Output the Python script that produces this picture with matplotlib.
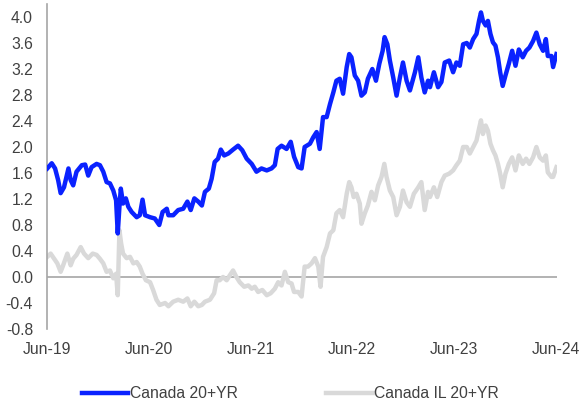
import pandas as pd
import matplotlib.pyplot as plt

# Canada 20+YR nominal yield (%)
nom_dates = [
    "2019-06-02", "2019-06-18", "2019-06-30", "2019-07-11", "2019-07-20", "2019-08-01",
    "2019-08-17", "2019-08-25", "2019-09-03", "2019-09-15", "2019-10-04", "2019-10-16",
    "2019-10-27", "2019-11-08", "2019-11-26", "2019-12-08", "2019-12-20", "2020-01-01",
    "2020-01-13", "2020-01-25", "2020-02-04", "2020-02-10", "2020-02-16", "2020-02-21",
    "2020-02-29", "2020-03-10", "2020-03-19", "2020-03-31", "2020-04-18", "2020-04-29",
    "2020-05-09", "2020-05-18", "2020-06-05", "2020-06-22", "2020-07-08", "2020-07-20",
    "2020-08-04", "2020-08-10", "2020-08-27", "2020-09-14", "2020-10-02", "2020-10-17",
    "2020-10-29", "2020-11-11", "2020-11-25", "2020-12-08", "2020-12-19", "2021-01-02",
    "2021-01-12", "2021-01-23", "2021-02-04", "2021-02-14", "2021-02-26", "2021-03-13",
    "2021-03-30", "2021-04-17", "2021-05-02", "2021-05-18", "2021-06-05", "2021-06-22",
    "2021-07-10", "2021-07-29", "2021-08-15", "2021-08-27", "2021-09-06", "2021-09-20",
    "2021-10-08", "2021-10-23", "2021-11-04", "2021-11-19", "2021-12-01", "2021-12-12",
    "2021-12-31", "2022-01-12", "2022-01-24", "2022-02-04", "2022-02-16", "2022-03-01",
    "2022-03-13", "2022-03-25", "2022-04-05", "2022-04-17", "2022-04-29", "2022-05-12",
    "2022-05-21", "2022-05-29", "2022-06-10", "2022-06-22", "2022-07-04", "2022-07-16",
    "2022-07-27", "2022-08-12", "2022-08-25", "2022-09-06", "2022-09-18", "2022-09-25",
    "2022-10-05", "2022-10-14", "2022-10-26", "2022-11-07", "2022-11-19", "2022-11-30",
    "2022-12-13", "2022-12-25", "2023-01-12", "2023-01-24", "2023-02-04", "2023-02-16",
    "2023-02-28", "2023-03-07", "2023-03-21", "2023-04-05", "2023-04-17", "2023-04-29",
    "2023-05-15", "2023-05-29", "2023-06-10", "2023-06-22", "2023-07-04", "2023-07-17",
    "2023-07-28", "2023-08-09", "2023-08-21", "2023-08-30", "2023-09-06", "2023-09-13",
    "2023-09-23", "2023-10-01", "2023-10-10", "2023-10-19", "2023-10-28", "2023-11-06",
    "2023-11-14", "2023-11-23", "2023-12-03", "2023-12-15", "2023-12-27", "2024-01-08",
    "2024-01-20", "2024-02-03", "2024-02-15", "2024-02-27", "2024-03-11", "2024-03-23",
    "2024-04-04", "2024-04-16", "2024-04-26", "2024-05-03", "2024-05-16", "2024-05-22",
    "2024-06-03",
]
nom_vals = [
    1.67, 1.75, 1.67, 1.49, 1.29, 1.38,
    1.67, 1.49, 1.41, 1.62, 1.72, 1.73,
    1.56, 1.69, 1.74, 1.72, 1.62, 1.46,
    1.44, 1.33, 1.18, 0.67, 1.08, 1.36,
    1.13, 1.21, 1.08, 1.00, 0.92, 0.95,
    1.19, 0.95, 0.92, 0.90, 0.80, 1.00,
    1.05, 0.95, 0.95, 1.03, 1.05, 1.16,
    1.03, 1.21, 1.16, 1.10, 1.31, 1.36,
    1.51, 1.77, 1.82, 1.96, 1.87, 1.90,
    1.96, 2.02, 1.95, 1.82, 1.74, 1.62,
    1.67, 1.64, 1.67, 1.72, 1.97, 2.02,
    1.97, 2.08, 1.85, 1.69, 1.67, 2.00,
    2.05, 2.15, 2.23, 1.97, 2.46, 2.46,
    2.66, 2.84, 3.02, 3.05, 2.82, 3.23,
    3.43, 3.38, 3.10, 3.02, 2.79, 2.84,
    3.05, 3.20, 3.02, 3.28, 3.48, 3.69,
    3.58, 3.33, 3.07, 2.79, 3.07, 3.30,
    3.02, 2.87, 3.15, 3.38, 3.07, 2.84,
    3.02, 2.92, 3.15, 2.92, 3.00, 3.30,
    3.33, 3.15, 3.30, 3.25, 3.58, 3.60,
    3.53, 3.66, 3.74, 3.94, 4.07, 3.94,
    3.87, 3.94, 3.74, 3.61, 3.56, 3.38,
    3.15, 2.94, 3.10, 3.28, 3.48, 3.25,
    3.50, 3.38, 3.48, 3.53, 3.63, 3.76,
    3.58, 3.48, 3.66, 3.40, 3.40, 3.23,
    3.43,
]

# Canada IL 20+YR real yield (%)
il_dates = [
    "2019-06-02", "2019-06-14", "2019-06-27", "2019-07-08", "2019-07-20", "2019-07-29",
    "2019-08-13", "2019-08-25", "2019-09-03", "2019-09-15", "2019-09-30", "2019-10-12",
    "2019-10-27", "2019-11-12", "2019-11-26", "2019-12-08", "2019-12-20", "2020-01-01",
    "2020-01-13", "2020-01-25", "2020-02-04", "2020-02-10", "2020-02-16", "2020-02-22",
    "2020-02-29", "2020-03-13", "2020-03-25", "2020-04-06", "2020-04-18", "2020-04-29",
    "2020-05-09", "2020-05-21", "2020-06-05", "2020-06-16", "2020-06-28", "2020-07-10",
    "2020-07-29", "2020-08-10", "2020-08-27", "2020-09-14", "2020-10-02", "2020-10-17",
    "2020-10-29", "2020-11-11", "2020-11-25", "2020-12-08", "2020-12-19", "2021-01-06",
    "2021-01-21", "2021-01-30", "2021-02-10", "2021-02-22", "2021-03-07", "2021-03-19",
    "2021-03-30", "2021-04-11", "2021-04-23", "2021-05-09", "2021-05-24", "2021-06-05",
    "2021-06-16", "2021-06-28", "2021-07-13", "2021-07-29", "2021-08-12", "2021-08-27",
    "2021-09-08", "2021-09-20", "2021-10-02", "2021-10-14", "2021-10-26", "2021-11-04",
    "2021-11-19", "2021-12-01", "2021-12-12", "2021-12-24", "2022-01-06", "2022-01-18",
    "2022-01-30", "2022-02-07", "2022-02-16", "2022-03-01", "2022-03-13", "2022-03-25",
    "2022-04-05", "2022-04-17", "2022-04-29", "2022-05-12", "2022-05-21", "2022-05-29",
    "2022-06-06", "2022-06-16", "2022-06-28", "2022-07-04", "2022-07-16", "2022-07-27",
    "2022-08-09", "2022-08-21", "2022-09-02", "2022-09-14", "2022-09-24", "2022-10-02",
    "2022-10-14", "2022-10-26", "2022-11-07", "2022-11-19", "2022-11-30", "2022-12-13",
    "2022-12-25", "2023-01-08", "2023-01-24", "2023-02-04", "2023-02-16", "2023-02-28",
    "2023-03-07", "2023-03-21", "2023-04-02", "2023-04-17", "2023-04-29", "2023-05-15",
    "2023-05-29", "2023-06-10", "2023-06-22", "2023-07-04", "2023-07-17", "2023-07-28",
    "2023-08-09", "2023-08-21", "2023-08-30", "2023-09-06", "2023-09-13", "2023-09-23",
    "2023-10-01", "2023-10-10", "2023-10-19", "2023-10-28", "2023-11-06", "2023-11-14",
    "2023-11-23", "2023-12-03", "2023-12-15", "2023-12-27", "2024-01-08", "2024-01-20",
    "2024-02-03", "2024-02-15", "2024-02-27", "2024-03-11", "2024-03-23", "2024-04-04",
    "2024-04-16", "2024-04-26", "2024-05-03", "2024-05-16", "2024-05-22", "2024-06-03",
]
il_vals = [
    0.31, 0.36, 0.28, 0.21, 0.08, 0.18,
    0.36, 0.18, 0.28, 0.34, 0.46, 0.36,
    0.29, 0.36, 0.34, 0.28, 0.21, 0.08,
    0.10, -0.02, 0.05, -0.28, 0.72, 0.52,
    0.36, 0.29, 0.31, 0.21, 0.23, 0.16,
    0.05, -0.05, -0.08, -0.20, -0.35, -0.43,
    -0.40, -0.45, -0.38, -0.35, -0.38, -0.33,
    -0.45, -0.38, -0.45, -0.43, -0.38, -0.35,
    -0.25, -0.05, -0.05, 0.00, -0.05, 0.03,
    0.10, 0.00, -0.08, -0.15, -0.13, -0.18,
    -0.15, -0.23, -0.20, -0.28, -0.25, -0.18,
    -0.08, -0.13, 0.08, -0.08, -0.10, -0.23,
    -0.23, -0.30, 0.16, 0.16, 0.21, 0.29,
    0.16, -0.15, 0.31, 0.46, 0.67, 0.72,
    0.98, 1.03, 0.92, 1.28, 1.46, 1.38,
    1.23, 1.28, 1.13, 0.82, 0.98, 1.10,
    1.31, 1.18, 1.41, 1.54, 1.74, 1.54,
    1.33, 1.23, 0.95, 1.08, 1.33, 1.15,
    1.08, 1.28, 1.38, 1.46, 1.03, 1.31,
    1.23, 1.38, 1.23, 1.46, 1.56, 1.59,
    1.64, 1.72, 1.79, 2.00, 2.00, 1.90,
    2.00, 2.10, 2.28, 2.41, 2.20, 2.33,
    2.25, 2.05, 1.95, 1.87, 1.74, 1.59,
    1.38, 1.59, 1.74, 1.84, 1.64, 1.87,
    1.74, 1.82, 1.74, 1.84, 2.00, 1.84,
    1.79, 1.87, 1.61, 1.54, 1.54, 1.69,
]

x_ticks = ["2019-06-01", "2020-06-01", "2021-06-01", "2022-06-01", "2023-06-01", "2024-06-01"]
x_labels = ["Jun-19", "Jun-20", "Jun-21", "Jun-22", "Jun-23", "Jun-24"]
y_ticks = [-0.8, -0.4, 0.0, 0.4, 0.8, 1.2, 1.6, 2.0, 2.4, 2.8, 3.2, 3.6, 4.0]

plt.rcParams['font.family'] = ['Liberation Sans', 'DejaVu Sans']

fig = plt.figure(figsize=(5.81, 4.05), dpi=100)
ax = fig.add_axes([47 / 581, 76 / 405, 510 / 581, 325 / 405])

ax.plot(pd.to_datetime(il_dates), il_vals, color='#d9d9d9', lw=3.2,
        label='Canada IL 20+YR', solid_joinstyle='round', zorder=2)
ax.plot(pd.to_datetime(nom_dates), nom_vals, color='#0a22ff', lw=3.2,
        label='Canada 20+YR', solid_joinstyle='round', zorder=3)
ax.axhline(0, color='#a6a6a6', lw=1.2, zorder=1)

ax.set_xlim(pd.Timestamp("2019-06-01"), pd.Timestamp("2024-06-05"))
ax.set_ylim(-0.8, 4.2)
ax.set_xticks(pd.to_datetime(x_ticks))
ax.set_xticklabels(x_labels)
ax.set_yticks(y_ticks)
ax.set_yticklabels([f"{v:.1f}" for v in y_ticks])
ax.tick_params(length=0, labelsize=11.3, colors='#404040')
ax.tick_params(axis='y', pad=10)
ax.tick_params(axis='x', pad=9)

for s in ['top', 'right', 'bottom']:
    ax.spines[s].set_visible(False)
ax.spines['left'].set_color('#a6a6a6')
ax.spines['left'].set_linewidth(1.2)

h, l = ax.get_legend_handles_labels()
fig.legend(h[::-1], l[::-1], loc='center left', bbox_to_anchor=(81.7 / 581, 11 / 405),
           ncol=2, frameon=False, fontsize=11.3, handlelength=2.97, handletextpad=0.12,
           columnspacing=5.6, borderpad=0, borderaxespad=0, labelcolor='#404040')

fig.savefig('out.png', dpi=100)
